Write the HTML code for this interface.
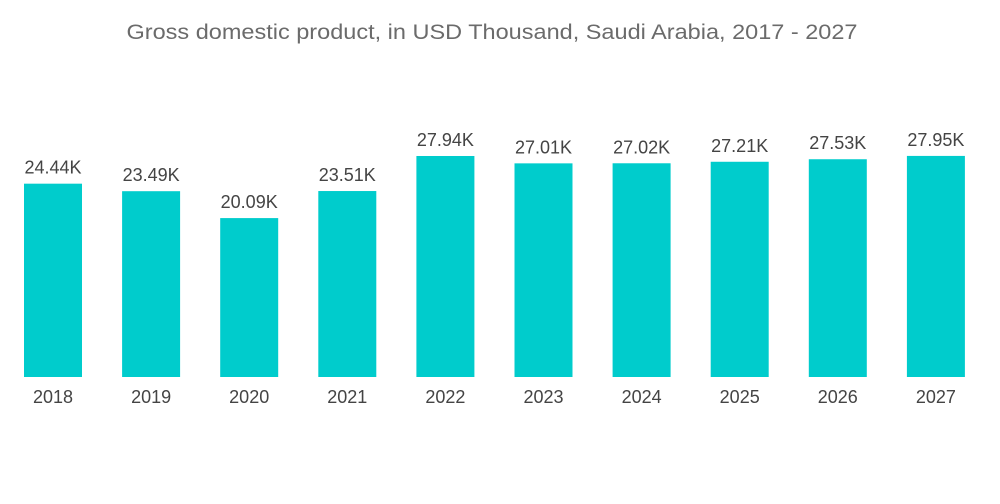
<!DOCTYPE html>
<html><head><meta charset="utf-8"><style>
html,body{margin:0;padding:0;background:#fff;width:1000px;height:504px;overflow:hidden}
text{font-family:"Liberation Sans",sans-serif}
</style></head><body>
<svg id="chart" width="1000" height="504">
<text x="492" y="39" text-anchor="middle" font-size="21" textLength="731" lengthAdjust="spacingAndGlyphs" fill="#6b6b6b">Gross domestic product,  in USD Thousand, Saudi Arabia, 2017 - 2027</text>
<g id="bars"></g>
</svg>
<script>
const years = ["2018","2019","2020","2021","2022","2023","2024","2025","2026","2027"];
const values = [24.44,23.49,20.09,23.51,27.94,27.01,27.02,27.21,27.53,27.95];
const labels = ["24.44K","23.49K","20.09K","23.51K","27.94K","27.01K","27.02K","27.21K","27.53K","27.95K"];
const base = 377, pxPerUnit = 7.91, x0 = 53, step = 98.1, bw = 58;
const yScale = v => base - v * pxPerUnit;
const xScale = i => x0 + i * step;
const g = document.getElementById('bars');
const ns = "http://www.w3.org/2000/svg";
years.forEach((yr, i) => {
  const cx = xScale(i), top = yScale(values[i]);
  const r = document.createElementNS(ns, 'rect');
  r.setAttribute('x', cx - bw/2); r.setAttribute('y', top);
  r.setAttribute('width', bw); r.setAttribute('height', base - top);
  r.setAttribute('fill', '#00cccc');
  
  
  g.appendChild(r);
  const t = document.createElementNS(ns, 'text');
  t.setAttribute('x', cx); t.setAttribute('y', top - 10);
  t.setAttribute('text-anchor', 'middle'); t.setAttribute('font-size', '18'); t.setAttribute('fill', '#444');
  t.textContent = labels[i];
  
  
  g.appendChild(t);
  const xl = document.createElementNS(ns, 'text');
  xl.setAttribute('x', cx); xl.setAttribute('y', 403);
  xl.setAttribute('text-anchor', 'middle'); xl.setAttribute('font-size', '18'); xl.setAttribute('fill', '#444');
  xl.textContent = yr;
  
  
  g.appendChild(xl);
});
</script>
</body></html>
